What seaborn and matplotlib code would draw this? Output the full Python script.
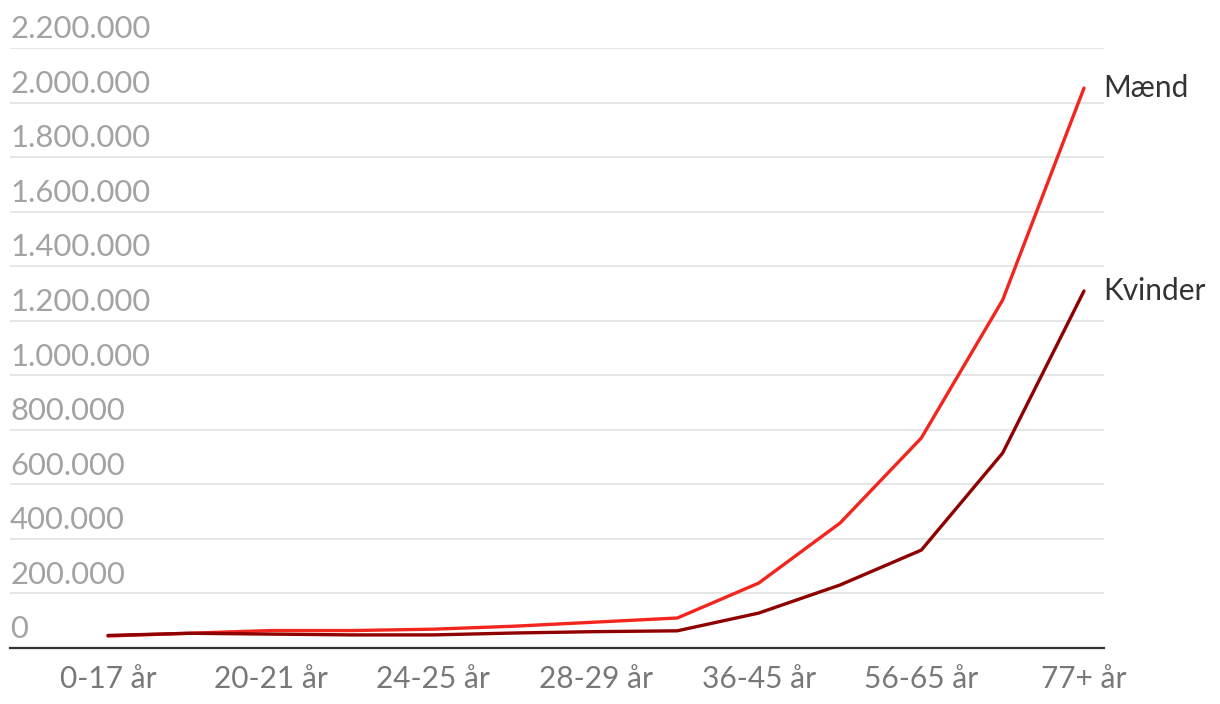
import numpy as np
import pandas as pd
import matplotlib
matplotlib.use("Agg")
import matplotlib.pyplot as plt
import seaborn as sns

# Age groups and amounts
age_groups = ['0-17 år', '18-19 år', '20-21 år', '22-23 år', '24-25 år', '26-27 år',
              '28-29 år', '30-35 år', '36-45 år', '46-55 år', '56-65 år', '66-76 år', '77+ år']
maend = [44000, 54000, 64000, 64000, 69000, 80000, 95000, 110000,
         238000, 458000, 770000, 1276000, 2053000]
kvinder = [46000, 54000, 51000, 48000, 48000, 55000, 60000, 63000,
           128000, 231000, 359000, 715000, 1309000]
shown_labels = ['0-17 år', '20-21 år', '24-25 år', '28-29 år', '36-45 år', '56-65 år', '77+ år']
y_ticks = [0, 200000, 400000, 600000, 800000, 1000000, 1200000,
           1400000, 1600000, 1800000, 2000000, 2200000]

df = pd.DataFrame({
    'idx': list(range(len(age_groups))) * 2,
    'value': maend + kvinder,
    'serie': ['Mænd'] * len(maend) + ['Kvinder'] * len(kvinder),
})

sns.set_theme(style='white')
plt.rcParams['font.family'] = ['Lato', 'DejaVu Sans']

fig = plt.figure(figsize=(12.2, 7.04), dpi=100)
ax = fig.add_axes([10 / 1220, 56 / 704, 1094 / 1220, 600 / 704])

colors = {'Mænd': '#f2261e', 'Kvinder': '#8f0000'}
sns.lineplot(data=df, x='idx', y='value', hue='serie', palette=colors,
             linewidth=2.4, legend=False, ax=ax, zorder=3)

ax.set_xlim(-1.205, 12.246)
ax.set_ylim(0, 2200000)

# grid lines and y labels sitting above them
for v in y_ticks[1:]:
    ax.axhline(v, color='#e6e6e6', linewidth=1.4, zorder=1)
for v in y_ticks:
    label = f'{v:,}'.replace(',', '.')
    ax.annotate(label, xy=(0, v), xycoords=('axes fraction', 'data'),
                xytext=(0, 7), textcoords='offset points',
                ha='left', va='baseline', fontsize=22.3, color='#a3a3a3')

ax.set_yticks([])
ax.set_xticks([age_groups.index(l) for l in shown_labels])
ax.set_xticklabels(shown_labels, fontsize=21.5, color='#787878')
ax.tick_params(axis='x', length=0, pad=12)
ax.set_xlabel('')
ax.set_ylabel('')

for s in ['top', 'right', 'left']:
    ax.spines[s].set_visible(False)
ax.spines['bottom'].set_color('#333333')
ax.spines['bottom'].set_linewidth(1.6)

# series labels at the end of the lines
ax.annotate('Mænd', xy=(len(age_groups) - 1, maend[-1]), xytext=(14, 0),
            textcoords='offset points', ha='left', va='center',
            fontsize=21.5, color='#333333', annotation_clip=False)
ax.annotate('Kvinder', xy=(len(age_groups) - 1, kvinder[-1]), xytext=(14, 0),
            textcoords='offset points', ha='left', va='center',
            fontsize=21.5, color='#333333', annotation_clip=False)

plt.savefig('out.png', dpi=100)
